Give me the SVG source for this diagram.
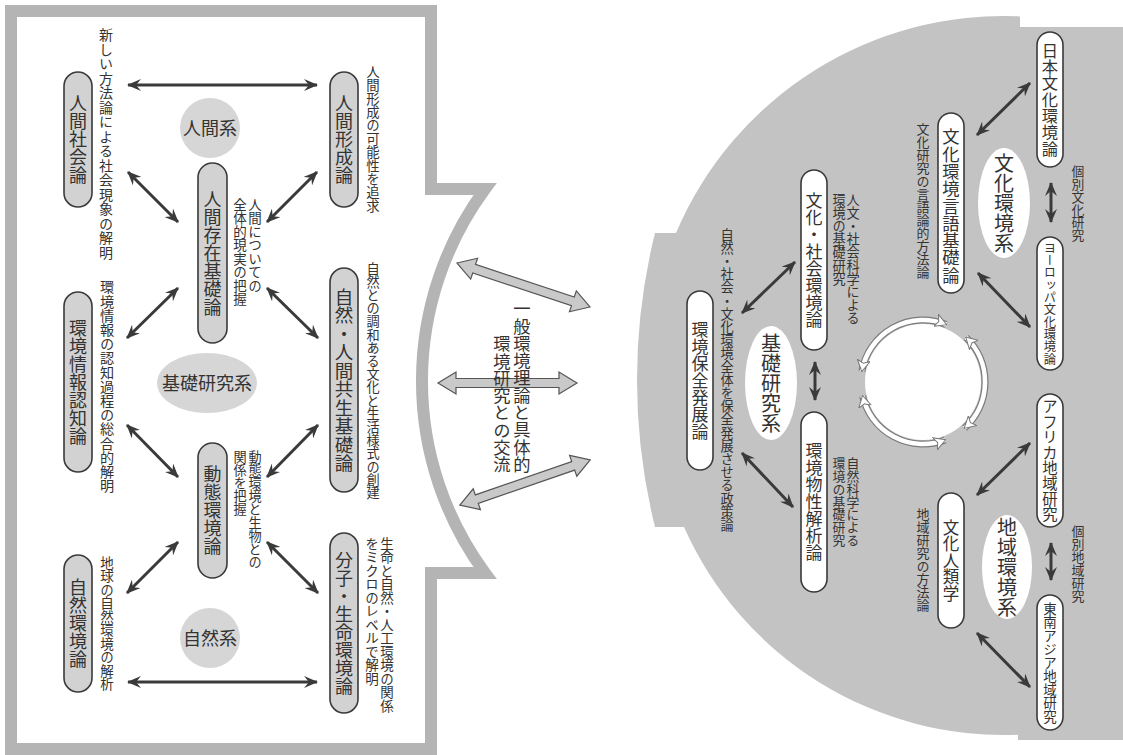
<svg xmlns="http://www.w3.org/2000/svg" width="1123" height="755" viewBox="0 0 1123 755">
<style>
.frame{fill:none;stroke:#b4b4b4;stroke-width:12;stroke-linejoin:miter}
.disc{fill:#c3c3c3}
.pl{fill:#d2d2d2;stroke:#3a3a3a;stroke-width:1.6}
.pr{fill:#ffffff;stroke:#3a3a3a;stroke-width:1.6}
.sysl{fill:#d6d6d6}
.sysr{fill:#ffffff}
.t{font-family:"Noto Sans CJK JP","Noto Sans",sans-serif;fill:#333}
.v{writing-mode:vertical-rl;font-family:"Noto Sans CJK JP","Noto Sans",sans-serif;fill:#333}
.arr{fill:none;stroke:#3a3a3a;stroke-width:3;marker-start:url(#ah);marker-end:url(#ah)}
.fat{fill:#c9c9c9;stroke:#555;stroke-width:1.2}
.ring1{fill:none;stroke:#7a7a7a;stroke-width:7}
.ring2{fill:none;stroke:#ffffff;stroke-width:4.6;marker-start:url(#rh);marker-end:url(#rh)}
</style>
<defs>
<marker id="ah" viewBox="0 0 14 12" refX="13" refY="6" markerWidth="14" markerHeight="12" markerUnits="userSpaceOnUse" orient="auto-start-reverse">
<path d="M0,0 L14,6 L0,12 L5,6 Z" fill="#3a3a3a"/>
</marker>
<marker id="rh" viewBox="0 0 12 14" refX="11" refY="7" markerWidth="12" markerHeight="14" markerUnits="userSpaceOnUse" orient="auto-start-reverse">
<path d="M0,0.5 L11.5,7 L0,13.5 L3,7 Z" fill="#ffffff" stroke="#777" stroke-width="1"/>
</marker>
</defs>

<!-- background shapes -->
<rect x="0" y="0" width="1123" height="755" fill="#ffffff"/>
<path class="frame" d="M11,11 H431 V189 H485 A324,324 0 0 0 485,573 H431 V749 H11 Z"/>
<path class="disc" d="M1123,27 L1020,27 L1020,16.4 A356,356 0 0 0 676,233 L655,233 A609,609 0 0 0 655,527 L684,527 A350,350 0 0 0 1018,734.7 L1018,740 L1123,740 Z"/>

<!-- exchange arrows -->
<g id="exchange">
<polygon class="fat" transform="translate(523.5,285) rotate(18.3)" points="-70,0 -52,-11 -52,-4.5 52,-4.5 52,-11 70,0 52,11 52,4.5 -52,4.5 -52,11"/>
<polygon class="fat" transform="translate(507.5,383)" points="-69.5,0 -51.5,-11 -51.5,-4.5 51.5,-4.5 51.5,-11 69.5,0 51.5,11 51.5,4.5 -51.5,4.5 -51.5,11"/>
<polygon class="fat" transform="translate(525,482.5) rotate(-19.1)" points="-69,0 -51,-11 -51,-4.5 51,-4.5 51,-11 69,0 51,11 51,4.5 -51,4.5 -51,11"/>
<text class="v" x="522" y="300" font-size="17.3">一般環境理論と具体的</text>
<text class="v" x="502" y="335" font-size="17.3">環境研究との交流</text>
</g>

<!-- cycle ring -->
<g id="cycle">
<circle cx="923" cy="382" r="58" fill="#ffffff"/>
<path class="ring1" d="M861.9,371.2 A62,62 0 0 1 946.2,324.5"/>
<path class="ring2" d="M861.9,371.2 A62,62 0 0 1 946.2,324.5"/>
<path class="ring1" d="M966.1,337.4 A62,62 0 0 1 964.5,428.1"/>
<path class="ring2" d="M966.1,337.4 A62,62 0 0 1 964.5,428.1"/>
<path class="ring1" d="M945.2,439.9 A62,62 0 0 1 862.6,396.0"/>
<path class="ring2" d="M945.2,439.9 A62,62 0 0 1 862.6,396.0"/>
</g>

<!-- connectors -->
<g id="connectors">
<line class="arr" x1="128" y1="85" x2="317" y2="85"/>
<line class="arr" x1="128" y1="172" x2="178" y2="222"/>
<line class="arr" x1="317" y1="172" x2="267" y2="222"/>
<line class="arr" x1="178" y1="288" x2="127" y2="338"/>
<line class="arr" x1="267" y1="288" x2="318" y2="338"/>
<line class="arr" x1="127" y1="425" x2="178" y2="477"/>
<line class="arr" x1="318" y1="425" x2="267" y2="477"/>
<line class="arr" x1="178" y1="542" x2="127" y2="593"/>
<line class="arr" x1="267" y1="542" x2="318" y2="593"/>
<line class="arr" x1="128" y1="682" x2="317" y2="682"/>
<line class="arr" x1="1030" y1="83" x2="977" y2="135"/>
<line class="arr" x1="978" y1="273" x2="1030" y2="327"/>
<line class="arr" x1="1051" y1="183" x2="1051" y2="222"/>
<line class="arr" x1="795" y1="262" x2="742" y2="313"/>
<line class="arr" x1="742" y1="453" x2="793" y2="507"/>
<line class="arr" x1="815" y1="362" x2="815" y2="400"/>
<line class="arr" x1="1030" y1="443" x2="977" y2="495"/>
<line class="arr" x1="977" y1="633" x2="1030" y2="687"/>
<line class="arr" x1="1051" y1="543" x2="1051" y2="580"/>
</g>

<!-- left system labels -->
<g id="sys-ningen"><circle class="sysl" cx="210" cy="128" r="30"/><text class="t" x="210" y="134.5" font-size="18" text-anchor="middle">人間系</text></g>
<g id="sys-kiso-left"><ellipse class="sysl" cx="207" cy="383" rx="50" ry="30"/><text class="t" x="207" y="389.5" font-size="18" text-anchor="middle">基礎研究系</text></g>
<g id="sys-shizen"><circle class="sysl" cx="210" cy="638" r="30"/><text class="t" x="210" y="644.5" font-size="18" text-anchor="middle">自然系</text></g>

<!-- left nodes -->
<g id="n-ningen-shakai"><rect class="pl" x="64" y="72" width="28" height="135" rx="14"/><text class="v" x="78" y="139.5" font-size="18" text-anchor="middle">人間社会論</text></g>
<g id="n-ningen-keisei"><rect class="pl" x="330" y="72" width="28" height="135" rx="14"/><text class="v" x="344" y="139.5" font-size="18" text-anchor="middle">人間形成論</text></g>
<g id="n-ningen-sonzai"><rect class="pl" x="198" y="163" width="29" height="180" rx="14.5"/><text class="v" x="212.5" y="253" font-size="18" text-anchor="middle">人間存在基礎論</text></g>
<g id="n-kankyo-joho"><rect class="pl" x="64" y="292" width="28" height="180" rx="14"/><text class="v" x="78" y="382" font-size="18" text-anchor="middle">環境情報認知論</text></g>
<g id="n-shizen-ningen"><rect class="pl" x="330" y="268" width="28" height="224" rx="14"/><text class="v" x="344" y="380" font-size="18.5" text-anchor="middle">自然・人間共生基礎論</text></g>
<g id="n-dotai"><rect class="pl" x="198" y="443" width="29" height="135" rx="14.5"/><text class="v" x="212.5" y="510.5" font-size="18" text-anchor="middle">動態環境論</text></g>
<g id="n-shizen-kankyo"><rect class="pl" x="64" y="555" width="28" height="137" rx="14"/><text class="v" x="78" y="623.5" font-size="18" text-anchor="middle">自然環境論</text></g>
<g id="n-bunshi"><rect class="pl" x="330" y="533" width="28" height="180" rx="14"/><text class="v" x="344" y="623" font-size="18" text-anchor="middle">分子・生命環境論</text></g>

<!-- left annotations -->
<g id="notes-left">
<text class="v" x="106" y="28" font-size="14" letter-spacing="0.5">新しい方法論による社会現象の解明</text>
<text class="v" x="373" y="65" font-size="13.4">人間形成の可能性を追求</text>
<text class="v" x="255" y="198" font-size="13.5">人間についての</text>
<text class="v" x="240" y="198" font-size="13.5">全体的現実の把握</text>
<text class="v" x="107" y="280" font-size="14.2">環境情報の認知過程の総合的解明</text>
<text class="v" x="373" y="262" font-size="13.2">自然との調和ある文化と生活様式の創建</text>
<text class="v" x="255" y="450" font-size="13.2">動態環境と生物との</text>
<text class="v" x="240" y="450" font-size="13.2">関係を把握</text>
<text class="v" x="107" y="556" font-size="13.5">地球の自然環境の解析</text>
<text class="v" x="387" y="537" font-size="13.5">生命と自然・人工環境の関係</text>
<text class="v" x="372" y="537" font-size="13.5">をミクロのレベルで解明</text>
</g>

<!-- right system labels -->
<g id="sys-bunka"><ellipse class="sysr" cx="1004" cy="203" rx="26" ry="55"/><text class="v" x="1004" y="203" font-size="20" text-anchor="middle">文化環境系</text></g>
<g id="sys-kiso-right"><ellipse class="sysr" cx="771" cy="383" rx="26" ry="57"/><text class="v" x="771" y="383" font-size="20" text-anchor="middle">基礎研究系</text></g>
<g id="sys-chiiki"><ellipse class="sysr" cx="1007" cy="567" rx="25" ry="52"/><text class="v" x="1007" y="567" font-size="20" text-anchor="middle">地域環境系</text></g>

<!-- right nodes -->
<g id="n-nihon"><rect class="pr" x="1037" y="32" width="26" height="135" rx="13"/><text class="v" x="1050" y="99.5" font-size="16.3" text-anchor="middle">日本文化環境論</text></g>
<g id="n-gengo"><rect class="pr" x="938" y="113" width="26" height="180" rx="13"/><text class="v" x="951" y="206" font-size="17.3" text-anchor="middle">文化環境言語基礎論</text></g>
<g id="n-europe"><rect class="pr" x="1037" y="237" width="26" height="133" rx="13"/><text class="v" x="1050" y="303.5" font-size="12.3" text-anchor="middle">ヨーロッパ文化環境論</text></g>
<g id="n-bunka-shakai"><rect class="pr" x="801" y="170" width="26" height="180" rx="13"/><text class="v" x="814" y="260" font-size="17" text-anchor="middle">文化・社会環境論</text></g>
<g id="n-hozen"><rect class="pr" x="687" y="291" width="26" height="179" rx="13"/><text class="v" x="700" y="380.5" font-size="17" text-anchor="middle">環境保全発展論</text></g>
<g id="n-bussei"><rect class="pr" x="801" y="412" width="26" height="180" rx="13"/><text class="v" x="814" y="502" font-size="17" text-anchor="middle">環境物性解析論</text></g>
<g id="n-africa"><rect class="pr" x="1037" y="394" width="26" height="133" rx="13"/><text class="v" x="1050" y="460.5" font-size="15.4" text-anchor="middle">アフリカ地域研究</text></g>
<g id="n-jinrui"><rect class="pr" x="938" y="493" width="26" height="135" rx="13"/><text class="v" x="951" y="560.5" font-size="16.5" text-anchor="middle">文化人類学</text></g>
<g id="n-asia"><rect class="pr" x="1037" y="595" width="26" height="135" rx="13"/><text class="v" x="1050" y="662.5" font-size="13.5" text-anchor="middle">東南アジア地域研究</text></g>

<!-- right annotations -->
<g id="notes-right">
<text class="v" x="1078" y="165" font-size="12.8">個別文化研究</text>
<text class="v" x="923" y="123" font-size="13">文化研究の言語論的方法論</text>
<text class="v" x="853" y="193" font-size="13.2">人文・社会科学による</text>
<text class="v" x="839" y="193" font-size="13.2">環境の基礎研究</text>
<text class="v" x="727" y="228" font-size="13.2">自然・社会・文化環境全体を保全発展させる政策論</text>
<text class="v" x="853" y="457" font-size="12.8">自然科学による</text>
<text class="v" x="839" y="457" font-size="12.8">環境の基礎研究</text>
<text class="v" x="923" y="508" font-size="13">地域研究の方法論</text>
<text class="v" x="1078" y="525" font-size="13">個別地域研究</text>
</g>
</svg>
